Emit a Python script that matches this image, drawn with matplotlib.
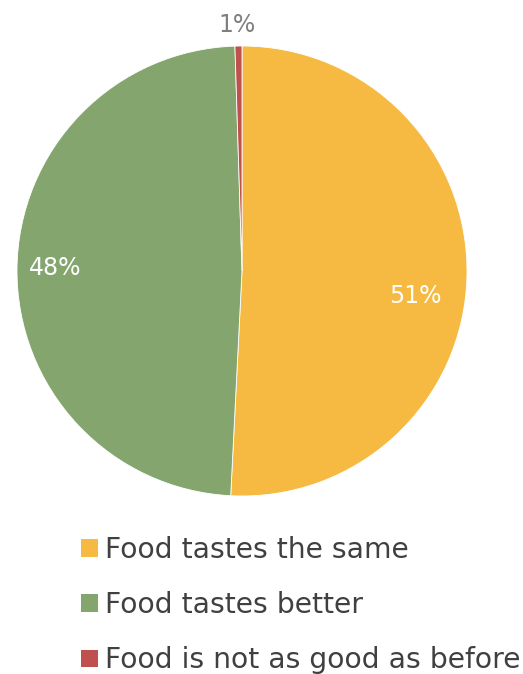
import matplotlib
matplotlib.use("Agg")
import matplotlib.pyplot as plt
from matplotlib.patches import Patch

categories = ["Food tastes the same", "Food tastes better", "Food is not as good as before"]
values = [50.8, 48.7, 0.5]
pct_labels = ["51%", "48%", "1%"]
colors = ["#F6B942", "#84A66E", "#C0504D"]

W, H = 523, 674
fig = plt.figure(figsize=(W / 100, H / 100), dpi=100)
cx, cy, r = 242, 271, 225
ax = fig.add_axes([(cx - r) / W, (H - cy - r) / H, 2 * r / W, 2 * r / H])
wedges, _ = ax.pie(values, colors=colors, startangle=90, counterclock=False,
                   wedgeprops=dict(linewidth=0.6, edgecolor="white"))
ax.set_xlim(-1, 1)
ax.set_ylim(-1, 1)
ax.set_aspect("equal")
ax.axis("off")

font = "DejaVu Sans"
# label placement (axes units) and colors
label_pos = [(0.77, -0.11), (-0.83, 0.015), (-0.02, 1.095)]
label_col = ["white", "white", "#7F7F7F"]
for (x, y), t, c in zip(label_pos, pct_labels, label_col):
    ax.text(x, y, t, ha="center", va="center", fontsize=17, color=c, family=font)

handles = [Patch(facecolor=c, edgecolor="none") for c in colors]
leg = fig.legend(handles, categories, loc="upper left",
                 bbox_to_anchor=(70 / W, 1 - 525 / H), frameon=False,
                 fontsize=20.3, handlelength=0.6, handleheight=0.6,
                 handletextpad=0.25, labelspacing=0.96, borderaxespad=0)
for t in leg.get_texts():
    t.set_color("#404040")
    t.set_family(font)

fig.savefig("out.png", dpi=100)
